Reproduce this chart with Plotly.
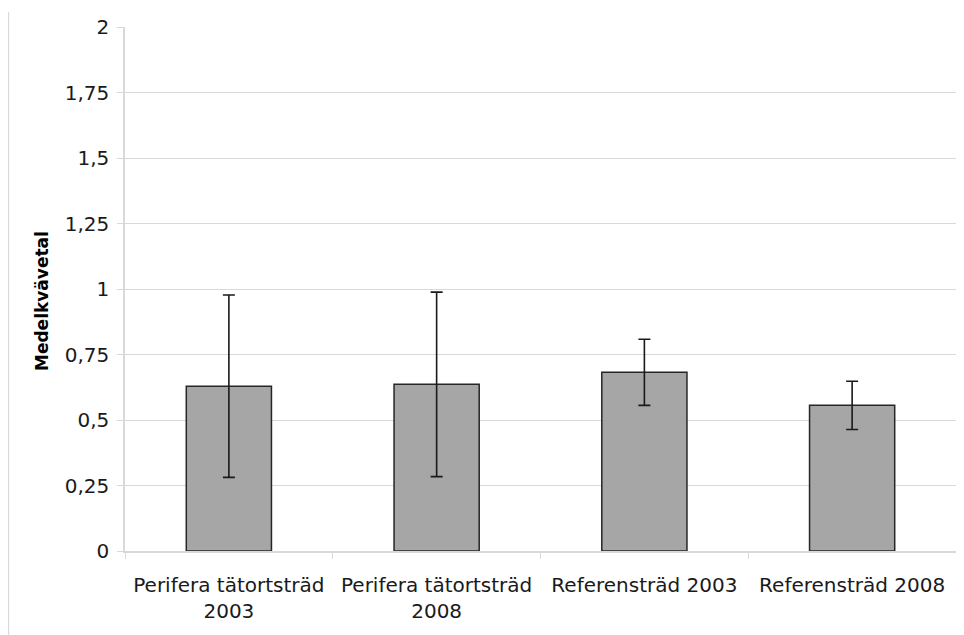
import plotly.graph_objects as go

categories = ["Perifera tätortsträd<br>2003", "Perifera tätortsträd<br>2008",
              "Referensträd 2003", "Referensträd 2008"]
means = [0.629, 0.636, 0.682, 0.556]
errors = [0.348, 0.352, 0.126, 0.092]
tick_vals = [0, 0.25, 0.5, 0.75, 1, 1.25, 1.5, 1.75, 2]
tick_text = ["0", "0,25", "0,5", "0,75", "1", "1,25", "1,5", "1,75", "2"]
y_title = "Medelkvävetal"

# page body adds 8px offset; figure sized so it fills the window
W, H = 956, 627
L, R, T, B = 117, 8, 19, 84
pw, ph = W - L - R, H - T - B

fig = go.Figure()
fig.add_trace(go.Bar(
    x=categories, y=means,
    marker=dict(color="#a6a6a6", line=dict(color="#262626", width=1.5)),
    error_y=dict(type="data", array=errors, visible=True,
                 color="#1a1a1a", thickness=1.6, width=6),
    width=0.41,
))

fig.update_layout(
    width=W, height=H,
    margin=dict(l=L, r=R, t=T, b=B, autoexpand=False),
    plot_bgcolor="white", paper_bgcolor="white",
    font=dict(family="DejaVu Sans", color="#1a1a1a"),
    showlegend=False,
    separators=", ",
    shapes=[dict(type="line", xref="paper", yref="paper",
                 x0=-L / pw + 0.0005, x1=-L / pw + 0.0005,
                 y0=-B / ph, y1=(ph + T - 4) / ph,
                 line=dict(color="#d9d9d9", width=1.5))],
    annotations=[dict(text="<b>" + y_title + "</b>", xref="paper", yref="paper",
                      x=-(L - 34) / pw, y=250 / ph, textangle=-90,
                      showarrow=False, xanchor="center", yanchor="middle",
                      font=dict(size=17, family="DejaVu Sans", color="#000000"))],
)
fig.update_xaxes(
    showline=True, linecolor="#d9d9d9", linewidth=1.5,
    ticks="outside", tickson="boundaries", ticklen=6, tickcolor="#d9d9d9",
    tickfont=dict(size=20, family="DejaVu Sans", color="#1a1a1a"),
    ticklabelstandoff=15,
    showgrid=False, automargin=False,
)
fig.update_yaxes(
    range=[0, 2], tickvals=tick_vals, ticktext=tick_text,
    showline=True, linecolor="#d9d9d9", linewidth=1.5,
    ticks="outside", ticklen=6, tickcolor="#d9d9d9",
    gridcolor="#d9d9d9", gridwidth=1.2, zeroline=False,
    tickfont=dict(size=20, family="DejaVu Sans", color="#1a1a1a"),
    ticklabelstandoff=4,
    automargin=False,
)

fig.write_html("out.html")
